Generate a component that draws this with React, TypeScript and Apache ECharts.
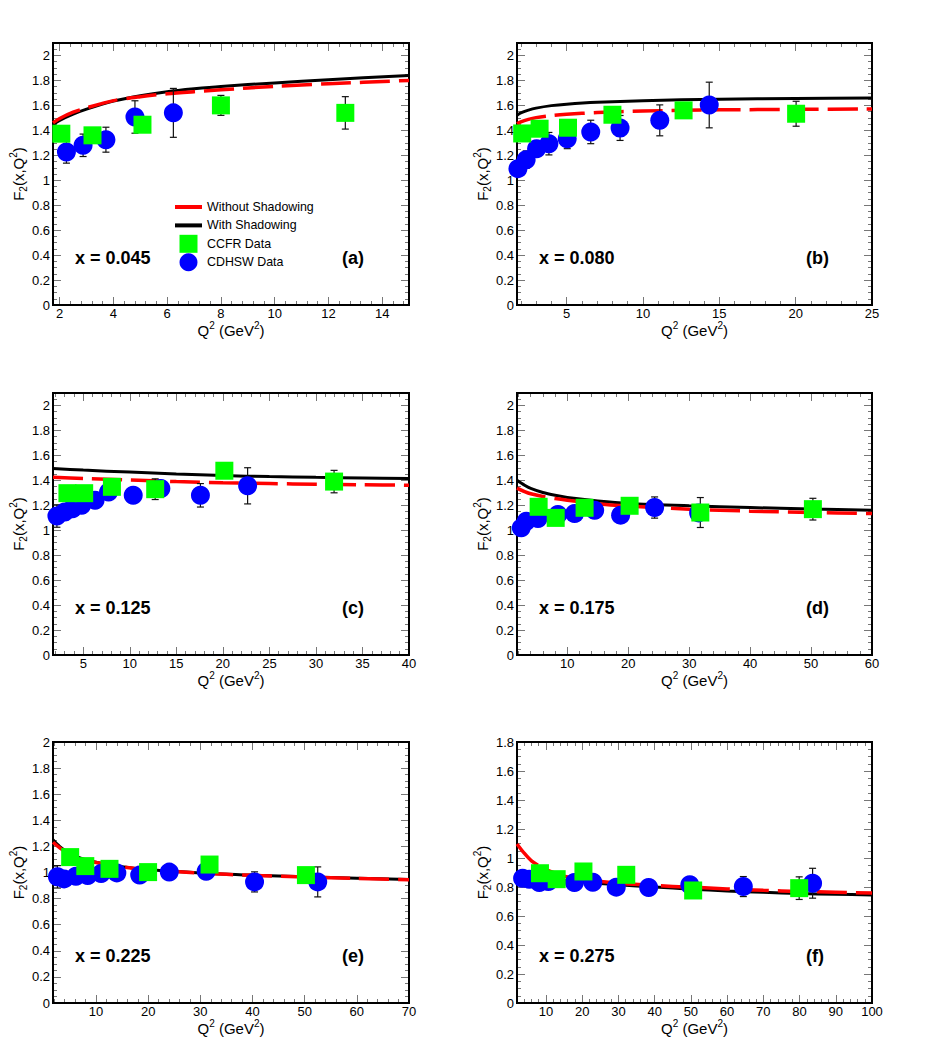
import React, { useEffect, useRef } from "react";
import * as echarts from "echarts";

const FONT = '"Liberation Sans", Arial, Helvetica, sans-serif';
const TICK = "#777";

// ---------- Tick labels ----------
const yTicks = [0, 0.2, 0.4, 0.6, 0.8, 1, 1.2, 1.4, 1.6, 1.8, 2];
const yTicksF = [0, 0.2, 0.4, 0.6, 0.8, 1, 1.2, 1.4, 1.6, 1.8];
const aXTicks = [2, 4, 6, 8, 10, 12, 14];
const bXTicks = [5, 10, 15, 20, 25];
const cXTicks = [5, 10, 15, 20, 25, 30, 35, 40];
const dXTicks = [10, 20, 30, 40, 50, 60];
const eXTicks = [10, 20, 30, 40, 50, 60, 70];
const fXTicks = [10, 20, 30, 40, 50, 60, 70, 80, 90, 100];

// ---------- Series names ----------
const nameWithout = "Without Shadowing";
const nameWith = "With Shadowing";
const nameCCFR = "CCFR Data";
const nameCDHSW = "CDHSW Data";

// ---------- Panel (a) x = 0.045 ----------
const aWith = [[1.75, 1.445], [2, 1.48], [2.5, 1.53], [3, 1.57], [4, 1.635], [5, 1.678], [6, 1.71], [7, 1.733], [8, 1.752], [10, 1.78], [12, 1.806], [15, 1.84]];
const aWithout = [[1.75, 1.46], [2, 1.495], [2.5, 1.545], [3, 1.58], [4, 1.638], [5, 1.67], [6, 1.693], [7, 1.71], [8, 1.725], [10, 1.753], [12, 1.773], [15, 1.8]];
const aCCFR = [[2.06, 1.373, 0], [3.22, 1.36, 0], [5.08, 1.445, 0], [8.0, 1.6, 0.08], [12.63, 1.54, 0.13]];
const aCDHSW = [[2.25, 1.227, 0.09], [2.87, 1.28, 0.09], [3.72, 1.325, 0.1], [4.8, 1.507, 0.13], [6.23, 1.54, 0.196]];

// ---------- Panel (b) x = 0.080 ----------
const bWith = [[1.75, 1.52], [2, 1.54], [2.5, 1.562], [3, 1.578], [4, 1.598], [5, 1.61], [7, 1.625], [10, 1.638], [15, 1.649], [20, 1.655], [25, 1.659]];
const bWithout = [[1.75, 1.452], [2, 1.468], [2.5, 1.488], [3, 1.502], [4, 1.518], [5, 1.528], [7, 1.543], [10, 1.555], [15, 1.564], [20, 1.568], [25, 1.571]];
const bCCFR = [[2.09, 1.375, 0], [3.23, 1.413, 0], [5.09, 1.421, 0], [8.0, 1.525, 0], [12.66, 1.56, 0], [20.03, 1.533, 0.1]];
const bCDHSW = [[1.81, 1.093, 0.04], [2.35, 1.165, 0.07], [3.03, 1.253, 0.06], [3.84, 1.293, 0.09], [5.04, 1.333, 0.08], [6.58, 1.387, 0.094], [8.5, 1.419, 0.1], [11.1, 1.48, 0.124], [14.34, 1.603, 0.183]];

// ---------- Panel (c) x = 0.125 ----------
const cWith = [[1.75, 1.495], [5, 1.482], [10, 1.466], [15, 1.451], [20, 1.438], [25, 1.43], [30, 1.424], [35, 1.419], [40, 1.415]];
const cWithout = [[1.75, 1.425], [5, 1.415], [10, 1.403], [15, 1.39], [20, 1.38], [25, 1.374], [30, 1.369], [35, 1.365], [40, 1.361]];
const cCCFR = [[3.3, 1.297, 0], [5.1, 1.297, 0], [8.08, 1.348, 0], [12.73, 1.329, 0.083], [20.16, 1.477, 0], [31.95, 1.39, 0.09]];
const cCDHSW = [[2.17, 1.114, 0.09], [3.0, 1.146, 0], [3.84, 1.173, 0], [4.82, 1.2, 0], [6.27, 1.24, 0], [7.72, 1.307, 0], [10.37, 1.28, 0], [13.34, 1.334, 0], [17.59, 1.28, 0.094], [22.66, 1.356, 0.145]];

// ---------- Panel (d) x = 0.175 ----------
const dWith = [[1.75, 1.4], [3, 1.36], [4, 1.335], [6, 1.302], [8, 1.28], [10, 1.263], [15, 1.235], [20, 1.215], [30, 1.196], [40, 1.182], [50, 1.17], [60, 1.161]];
const dWithout = [[1.75, 1.338], [3, 1.31], [4, 1.292], [6, 1.27], [8, 1.254], [10, 1.241], [15, 1.213], [20, 1.193], [30, 1.169], [40, 1.153], [50, 1.142], [60, 1.134]];
const dCCFR = [[5.3, 1.188, 0], [8.1, 1.099, 0], [12.84, 1.18, 0], [20.23, 1.196, 0], [31.83, 1.142, 0.12], [50.3, 1.169, 0.087]];
const dCDHSW = [[2.45, 1.019, 0], [3.27, 1.072, 0], [5.19, 1.094, 0], [8.47, 1.126, 0], [11.2, 1.134, 0], [14.49, 1.161, 0], [18.75, 1.121, 0], [24.33, 1.182, 0.085], [31.55, 1.139, 0]];

// ---------- Panel (e) x = 0.225 ----------
const eWith = [[1.75, 1.25], [3, 1.2], [4, 1.17], [6, 1.125], [8, 1.098], [10, 1.079], [15, 1.045], [20, 1.023], [30, 0.997], [40, 0.98], [50, 0.967], [60, 0.956], [70, 0.946]];
const eWithout = [[1.75, 1.232], [3, 1.19], [4, 1.162], [6, 1.12], [8, 1.095], [10, 1.076], [15, 1.043], [20, 1.021], [30, 0.995], [40, 0.978], [50, 0.965], [60, 0.955], [70, 0.945]];
const eCCFR = [[5.04, 1.118, 0], [7.94, 1.049, 0], [12.58, 1.028, 0], [19.98, 1.003, 0], [31.76, 1.061, 0], [50.24, 0.98, 0]];
const eCDHSW = [[2.6, 0.967, 0.086], [3.88, 0.951, 0], [6.14, 0.972, 0], [8.4, 0.977, 0], [10.97, 0.992, 0], [13.99, 0.997, 0], [18.37, 0.98, 0], [24.04, 1.003, 0], [31.12, 1.01, 0], [40.39, 0.928, 0.077], [52.5, 0.928, 0.115]];

// ---------- Panel (f) x = 0.275 ----------
const fWith = [[2, 0.88], [10, 0.855], [20, 0.835], [30, 0.815], [40, 0.8], [50, 0.785], [60, 0.773], [70, 0.763], [80, 0.755], [90, 0.75], [100, 0.745]];
const fWithout = [[2, 1.097], [4, 1.033], [6, 0.98], [8, 0.948], [10, 0.92], [12, 0.9], [15, 0.875], [20, 0.854], [30, 0.826], [40, 0.81], [50, 0.799], [60, 0.787], [70, 0.777], [80, 0.769], [90, 0.764], [100, 0.758]];
const fCCFR = [[8.34, 0.895, 0], [12.95, 0.854, 0], [20.34, 0.907, 0], [32.16, 0.884, 0], [50.63, 0.776, 0], [79.9, 0.792, 0.078]];
const fCDHSW = [[3.54, 0.861, 0], [5.38, 0.854, 0], [8.15, 0.831, 0], [10.65, 0.838, 0], [17.85, 0.831, 0], [22.93, 0.833, 0], [29.4, 0.799, 0], [38.35, 0.797, 0], [49.7, 0.815, 0], [64.48, 0.803, 0.069], [83.6, 0.826, 0.103]];

const xLabels = ["x = 0.045", "x = 0.080", "x = 0.125", "x = 0.175", "x = 0.225", "x = 0.275"];
const tags = ["(a)", "(b)", "(c)", "(d)", "(e)", "(f)"];

const panels = [
  { with: aWith, without: aWithout, ccfr: aCCFR, cdhsw: aCDHSW, xTicks: aXTicks, xMin: 1.75, xMax: 15, xMinorStep: 0.4, yTicks, yMax: 2.1, left: 53, top: 43, width: 356, height: 262 },
  { with: bWith, without: bWithout, ccfr: bCCFR, cdhsw: bCDHSW, xTicks: bXTicks, xMin: 1.75, xMax: 25, xMinorStep: 1, yTicks, yMax: 2.1, left: 517, top: 43, width: 355, height: 262 },
  { with: cWith, without: cWithout, ccfr: cCCFR, cdhsw: cCDHSW, xTicks: cXTicks, xMin: 1.75, xMax: 40, xMinorStep: 1, yTicks, yMax: 2.1, left: 53, top: 393, width: 356, height: 262 },
  { with: dWith, without: dWithout, ccfr: dCCFR, cdhsw: dCDHSW, xTicks: dXTicks, xMin: 1.75, xMax: 60, xMinorStep: 2, yTicks, yMax: 2.1, left: 517, top: 393, width: 355, height: 262 },
  { with: eWith, without: eWithout, ccfr: eCCFR, cdhsw: eCDHSW, xTicks: eXTicks, xMin: 1.75, xMax: 70, xMinorStep: 2, yTicks, yMax: 2, left: 53, top: 742, width: 356, height: 261 },
  { with: fWith, without: fWithout, ccfr: fCCFR, cdhsw: fCDHSW, xTicks: fXTicks, xMin: 2, xMax: 100, xMinorStep: 2, yTicks: yTicksF, yMax: 1.8, left: 517, top: 742, width: 355, height: 261 },
];

function minorTicks(min: number, max: number, step: number, majors: number[]) {
  const out: number[] = [];
  const start = Math.ceil(min / step - 1e-9);
  for (let k = start; k * step <= max + 1e-9; k++) {
    const v = Math.round(k * step * 1e6) / 1e6;
    if (!majors.some((m) => Math.abs(m - v) < 1e-6)) out.push(v);
  }
  return out;
}

const richName = {
  n: { fontSize: 15, fontFamily: FONT, color: "#000" },
  s: { fontSize: 10, fontFamily: FONT, color: "#000", padding: [0, 0, 10, 0] },
  b: { fontSize: 10, fontFamily: FONT, color: "#000", padding: [10, 0, 0, 0] },
};

function buildOption() {
  const grid: any[] = [];
  const xAxis: any[] = [];
  const yAxis: any[] = [];
  const series: any[] = [];
  const graphic: any[] = [];

  panels.forEach((p, i) => {
    grid.push({ left: p.left, top: p.top, width: p.width, height: p.height, show: true, borderColor: "#000", borderWidth: 2, backgroundColor: "transparent", z: 1 });
    const xMin = minorTicks(p.xMin, p.xMax, p.xMinorStep, p.xTicks);
    const yMin = minorTicks(0, p.yMax, 0.05, p.yTicks);
    const baseX = { gridIndex: i, type: "value", min: p.xMin, max: p.xMax, splitLine: { show: false }, axisLine: { show: false, onZero: false } };
    const baseY = { gridIndex: i, type: "value", min: 0, max: p.yMax, splitLine: { show: false }, axisLine: { show: false, onZero: false } };
    xAxis.push({
      ...baseX, position: "bottom",
      axisTick: { show: true, inside: true, length: 8, customValues: p.xTicks, lineStyle: { color: TICK, width: 1 } },
      axisLabel: { show: true, customValues: p.xTicks, margin: 2, fontSize: 13, fontFamily: FONT, color: "#000" },
      name: "{n|Q}{s|2}{n| (GeV}{s|2}{n|)}", nameLocation: "middle", nameGap: 6,
      nameTextStyle: { fontSize: 15, fontFamily: FONT, color: "#000", rich: richName },
    });
    xAxis.push({ ...baseX, position: "top", axisTick: { show: true, inside: true, length: 8, customValues: p.xTicks, lineStyle: { color: TICK, width: 1 } }, axisLabel: { show: false } });
    xAxis.push({ ...baseX, position: "bottom", axisTick: { show: true, inside: true, length: 4, customValues: xMin, lineStyle: { color: TICK, width: 1 } }, axisLabel: { show: false } });
    xAxis.push({ ...baseX, position: "top", axisTick: { show: true, inside: true, length: 4, customValues: xMin, lineStyle: { color: TICK, width: 1 } }, axisLabel: { show: false } });

    yAxis.push({
      ...baseY, position: "left",
      axisTick: { show: true, inside: true, length: 8, customValues: p.yTicks, lineStyle: { color: TICK, width: 1 } },
      axisLabel: { show: true, customValues: p.yTicks, margin: 3, fontSize: 13, fontFamily: FONT, color: "#000" },
      name: "{n|F}{b|2}{n|(x,Q}{s|2}{n|)}", nameLocation: "middle", nameGap: 24,
      nameTextStyle: { fontSize: 15, fontFamily: FONT, color: "#000", rich: richName },
    });
    yAxis.push({ ...baseY, position: "right", axisTick: { show: true, inside: true, length: 8, customValues: p.yTicks, lineStyle: { color: TICK, width: 1 } }, axisLabel: { show: false } });
    yAxis.push({ ...baseY, position: "left", axisTick: { show: true, inside: true, length: 4, customValues: yMin, lineStyle: { color: TICK, width: 1 } }, axisLabel: { show: false } });
    yAxis.push({ ...baseY, position: "right", axisTick: { show: true, inside: true, length: 4, customValues: yMin, lineStyle: { color: TICK, width: 1 } }, axisLabel: { show: false } });

    const xi = i * 4;
    const yi = i * 4;
    series.push({
      type: "line", name: nameWith, xAxisIndex: xi, yAxisIndex: yi, data: p.with, showSymbol: false, symbol: "none",
      smooth: 0.3, color: "#000", itemStyle: { color: "#000" },
      lineStyle: { color: "#000", width: 3 }, z: 3, clip: true,
    });
    series.push({
      type: "line", name: nameWithout, xAxisIndex: xi, yAxisIndex: yi, data: p.without, showSymbol: false, symbol: "none",
      smooth: 0.3, color: "#ff0000", itemStyle: { color: "#ff0000" },
      lineStyle: { color: "#ff0000", width: 3.5, type: [30, 9] }, z: 4, clip: true,
    });
    const errs = [...p.cdhsw, ...p.ccfr].filter((d) => d[2] > 0).map((d) => [d[0], d[1] - d[2], d[1] + d[2]]);
    series.push({
      type: "custom", name: "errors", xAxisIndex: xi, yAxisIndex: yi, data: errs, clip: false, z: 5,
      encode: { x: 0, y: [1, 2] },
      renderItem: (params: any, api: any) => {
        const x = api.value(0);
        const lo = api.coord([x, api.value(1)]);
        const hi = api.coord([x, api.value(2)]);
        const cap = 3.5;
        const st = { stroke: "#111", lineWidth: 1.2 };
        return {
          type: "group",
          children: [
            { type: "line", shape: { x1: hi[0], y1: hi[1], x2: lo[0], y2: lo[1] }, style: st },
            { type: "line", shape: { x1: hi[0] - cap, y1: hi[1], x2: hi[0] + cap, y2: hi[1] }, style: st },
            { type: "line", shape: { x1: lo[0] - cap, y1: lo[1], x2: lo[0] + cap, y2: lo[1] }, style: st },
          ],
        };
      },
    });
    series.push({
      type: "scatter", name: nameCDHSW, xAxisIndex: xi, yAxisIndex: yi, data: p.cdhsw.map((d) => [d[0], d[1]]),
      symbol: "circle", symbolSize: 19, itemStyle: { color: "#0000ff", opacity: 1 }, color: "#0000ff", z: 6, clip: false,
    });
    series.push({
      type: "scatter", name: nameCCFR, xAxisIndex: xi, yAxisIndex: yi, data: p.ccfr.map((d) => [d[0], d[1]]),
      symbol: "rect", symbolSize: 18, itemStyle: { color: "#00ff00", opacity: 1 }, color: "#00ff00", z: 7, clip: false,
    });

    const ty = p.top + p.height - 47;
    graphic.push({ type: "text", x: p.left + 22, y: ty, style: { text: xLabels[i], font: `bold 18px ${FONT}`, fill: "#000", verticalAlign: "middle" } });
    graphic.push({ type: "text", x: p.left + 289, y: ty, style: { text: tags[i], font: `bold 18px ${FONT}`, fill: "#000", verticalAlign: "middle" } });
  });

  return {
    animation: false,
    backgroundColor: "#fff",
    grid,
    xAxis,
    yAxis,
    series,
    graphic,
    legend: {
      show: true,
      orient: "vertical",
      left: 175,
      top: 198,
      padding: 0,
      itemWidth: 27,
      itemHeight: 18,
      itemGap: 0.4,
      selectedMode: false,
      symbolKeepAspect: true,
      textStyle: { fontSize: 12.4, lineHeight: 18, fontFamily: FONT, color: "#000" },
      data: [
        { name: nameWithout, icon: "path://M0,0H27V4H0Z", itemStyle: { color: "#ff0000" } },
        { name: nameWith, icon: "path://M0,0H27V4H0Z", itemStyle: { color: "#000" } },
        { name: nameCCFR, icon: "path://M0,0H10V10H0Z", itemStyle: { color: "#00ff00" } },
        { name: nameCDHSW, icon: "circle", itemStyle: { color: "#0000ff" } },
      ],
    },
  };
}

export default function App() {
  const ref = useRef<HTMLDivElement>(null);
  useEffect(() => {
    document.body.style.margin = "0";
    const chart = echarts.init(ref.current!, null, { renderer: "svg" });
    chart.setOption(buildOption() as any);
    return () => chart.dispose();
  }, []);
  return <div ref={ref} style={{ width: 926, height: 1047 }} />;
}
